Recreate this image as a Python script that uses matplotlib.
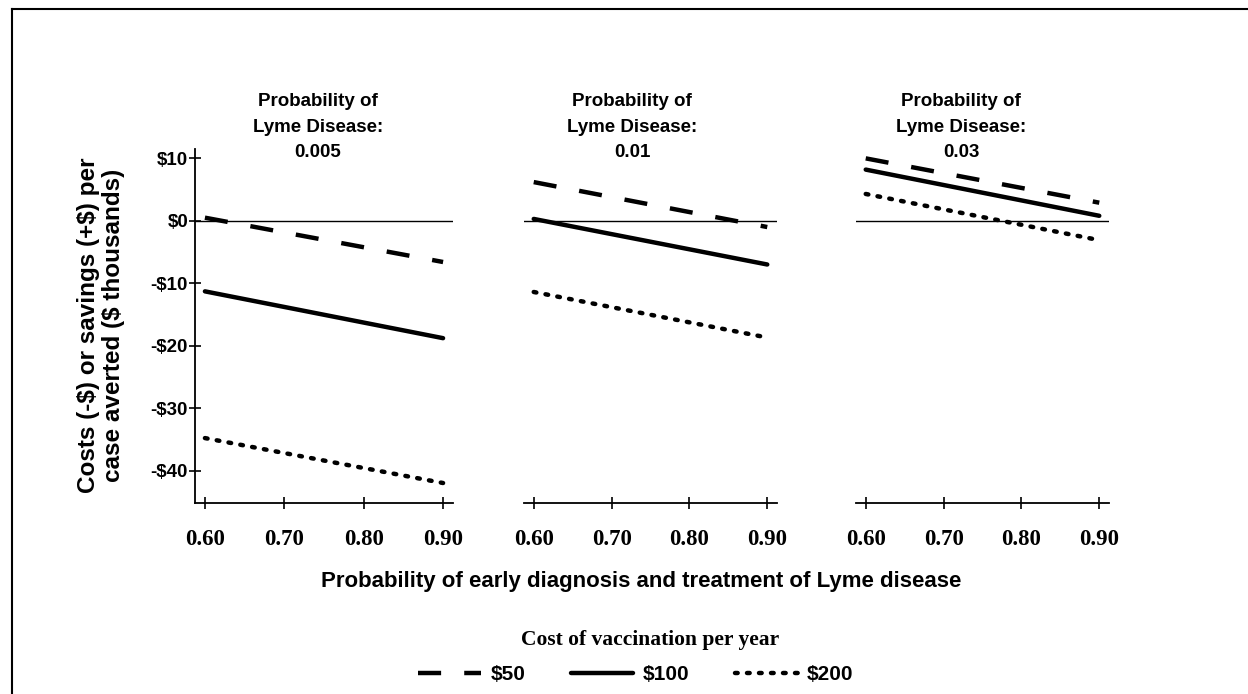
import matplotlib
matplotlib.use("Agg")
import matplotlib.pyplot as plt
from matplotlib.lines import Line2D

plt.rcParams["text.parse_math"] = False

# probability of early diagnosis (x) and cost / savings per case averted ($ thousands)
x_prob = [0.60, 0.90]
lyme_prob = ["0.005", "0.01", "0.03"]
cost_50 = [[0.5, -6.6], [6.2, -1.0], [10.0, 2.9]]
cost_100 = [[-11.3, -18.8], [0.3, -7.0], [8.2, 0.8]]
cost_200 = [[-34.8, -42.0], [-11.4, -18.7], [4.3, -3.1]]
vacc_labels = ["$50", "$100", "$200"]

x_ticks = [0.60, 0.70, 0.80, 0.90]
x_ticklabels = ["0.60", "0.70", "0.80", "0.90"]
y_ticks = [10, 0, -10, -20, -30, -40]
y_ticklabels = ["$10", "$0", "-$10", "-$20", "-$30", "-$40"]

W, H = 1248, 694
SANS = "Liberation Sans"
SERIF = "Liberation Serif"

fig = plt.figure(figsize=(W / 100, H / 100), dpi=100)

# panel boxes in pixels: left, width
panels = [(195, 258), (524, 253), (856, 253)]
title_x = [318, 632, 961]
ax_bottom, ax_top = 503, 149

LW = 3.2
styles = [
    dict(linestyle=(0, (5.2, 5.2)), dash_capstyle="butt"),
    dict(linestyle="-", solid_capstyle="round"),
    dict(linestyle=(0, (0.6, 2.1)), dash_capstyle="round"),
]

handles = []
for i, (left, width) in enumerate(panels):
    ax = fig.add_axes([left / W, 1 - ax_bottom / H, width / W, (ax_bottom - ax_top) / H])
    ax.set_xlim(0.5875, 0.9125)
    ax.set_ylim(-45.2, 11.5)
    ax.axhline(0, color="black", lw=1.0, zorder=1)
    series = [cost_50[i], cost_100[i], cost_200[i]]
    for j, vals in enumerate(series):
        ln, = ax.plot(x_prob, vals, color="black", lw=LW, zorder=2, **styles[j])
        if i == 0:
            handles.append(ln)

    for s in ["top", "right"]:
        ax.spines[s].set_visible(False)
    ax.spines["bottom"].set_linewidth(1.3)
    ax.set_xticks(x_ticks)
    ax.set_xticklabels(x_ticklabels, fontfamily=SERIF, fontweight="bold", fontsize=16.5)
    ax.tick_params(axis="x", direction="inout", length=9, width=1.2, pad=14)
    if i == 0:
        ax.spines["left"].set_linewidth(1.3)
        ax.set_yticks(y_ticks)
        ax.set_yticklabels(y_ticklabels, fontfamily=SANS, fontweight="bold", fontsize=13.5)
        ax.tick_params(axis="y", direction="inout", length=9, width=1.2, pad=0.5)
    else:
        ax.spines["left"].set_visible(False)
        ax.set_yticks([])

    fig.text(title_x[i] / W, 1 - 127 / H,
             "Probability of\nLyme Disease:\n" + lyme_prob[i],
             ha="center", va="center", fontfamily=SANS, fontweight="bold",
             fontsize=13.5, linespacing=1.65)

fig.text(101 / W, 1 - 325 / H,
         "Costs (-$) or savings (+$) per\ncase averted ($ thousands)",
         rotation=90, ha="center", va="center", fontfamily=SANS,
         fontweight="bold", fontsize=17.5, linespacing=1.1)

fig.text(641 / W, 1 - 582 / H,
         "Probability of early diagnosis and treatment of Lyme disease",
         ha="center", va="center", fontfamily=SANS, fontweight="bold", fontsize=16)

fig.text(650 / W, 1 - 640 / H, "Cost of vaccination per year",
         ha="center", va="center", fontfamily=SERIF, fontweight="bold", fontsize=15.5)

fig.legend(handles, vacc_labels, loc="center",
           bbox_to_anchor=(636 / W, 1 - 675 / H), ncol=3, frameon=False,
           handlelength=3.0, handletextpad=0.45, columnspacing=2.2,
           borderpad=0, borderaxespad=0,
           prop=dict(family=SANS, weight="bold", size=15))

# scanned frame edges (top and left)
fig.add_artist(Line2D([12 / W, 12 / W], [0, 1 - 9 / H], transform=fig.transFigure,
                      color="black", lw=1.5))
fig.add_artist(Line2D([12 / W, 1], [1 - 9 / H, 1 - 9 / H], transform=fig.transFigure,
                      color="black", lw=1.5))

fig.savefig("out.png", dpi=100)
